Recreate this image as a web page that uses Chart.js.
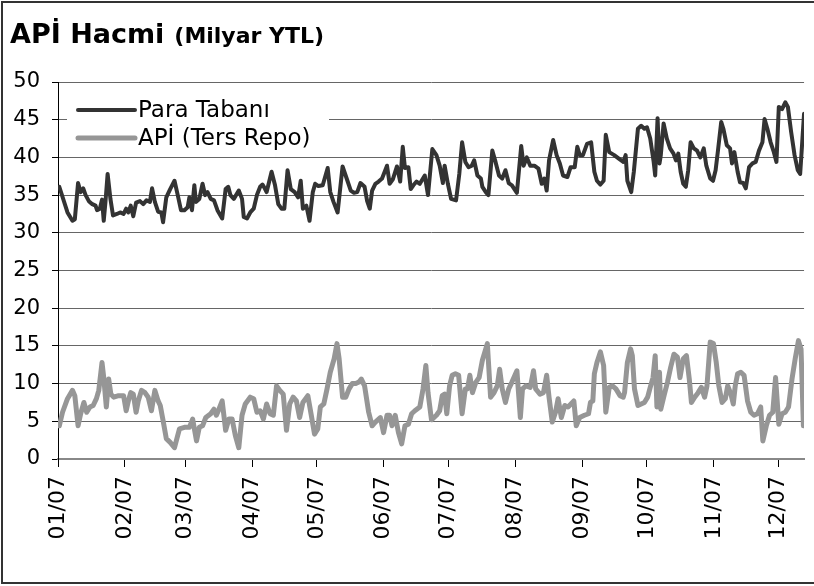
<!DOCTYPE html>
<html>
<head>
<meta charset="utf-8">
<script src="https://cdn.jsdelivr.net/npm/chart.js@4/dist/chart.umd.min.js"></script>
<style>
	body { margin: 0; background: white; }
	canvas { display: block; }
</style>
</head>
<body>
<canvas id="graph" width="814" height="586"></canvas>
<script>
// day of year (0 = 1 Jan 2007) and value, in Milyar YTL
var paraDays = [0.6,4.4,6.7,7.8,9.3,10.5,11.7,12.8,14.3,15.9,17.4,18.1,19.4,20.4,21.2,22.0,23.0,24.3,25.5,27.3,28.8,30.4,31.6,32.6,33.7,34.9,36.2,38.0,39.5,41.0,42.6,43.6,44.9,46.4,47.9,48.7,50.2,52.0,54.0,55.5,57.0,58.6,60.1,60.9,62.1,63.2,63.9,65.5,67.0,68.2,69.3,70.8,72.3,73.9,76.1,77.7,78.9,79.9,81.5,83.8,85.3,86.1,87.6,89.1,90.7,92.2,93.7,94.8,96.0,96.7,99.0,100.6,102.1,103.6,104.9,106.4,107.9,109.7,111.3,112.5,113.5,115.1,116.6,118.1,119.2,120.7,122.7,125.0,126.2,127.7,129.6,131.9,133.8,135.7,137.2,138.7,140.2,142.1,143.3,144.5,145.6,147.1,148.6,150.2,152.5,153.7,155.2,157.1,158.6,159.8,160.8,162.4,163.5,164.7,166.2,167.7,170.0,171.5,173.5,175.4,176.9,178.4,179.2,180.7,182.2,184.5,186.0,187.3,188.8,190.3,191.8,192.9,194.4,196.0,196.7,198.3,199.5,201.3,202.8,204.4,205.9,207.4,208.9,210.4,212.7,214.7,215.8,217.3,218.9,220.8,222.7,224.2,225.4,226.5,227.6,229.5,231.1,232.6,234.1,236.1,237.6,239.5,240.7,241.8,243.3,245.2,247.1,248.6,249.8,251.4,252.9,253.9,255.5,257.8,260.1,262.0,263.1,263.9,265.7,266.9,268.8,270.3,271.8,273.0,274.5,276.1,276.8,277.9,278.8,279.4,280.7,282.2,283.7,285.3,286.4,287.5,288.6,289.8,291.0,292.1,293.2,294.7,296.2,297.7,299.3,300.5,302.3,303.6,304.8,305.9,307.4,308.4,310.0,311.5,312.4,313.5,315.0,316.1,317.6,318.8,320.3,321.9,323.4,324.9,326.5,327.5,328.8,330.3,331.8,333.0,334.1,335.6,337.1,338.3,339.8,341.4,342.9,344.0,345.8];
var paraValues = [36.1,32.7,31.6,31.8,36.6,35.4,35.9,35.0,34.2,33.8,33.6,33.0,33.2,34.4,31.6,34.1,37.8,34.5,32.3,32.5,32.7,32.5,33.2,32.7,33.6,32.2,34.0,34.2,33.8,34.3,34.1,35.9,34.1,32.8,32.7,31.4,34.7,35.8,36.9,35.0,33.0,33.0,33.4,34.7,33.0,36.3,34.1,34.5,36.5,35.0,35.4,34.5,34.3,33.0,31.9,35.8,36.1,35.0,34.5,35.6,34.5,32.1,31.9,32.7,33.2,35.0,36.1,36.4,35.8,35.4,38.1,36.3,33.8,33.2,33.2,38.3,35.8,35.4,34.7,36.9,33.2,33.6,31.6,35.4,36.5,36.2,36.3,38.6,35.4,34.1,32.7,38.8,37.2,35.6,35.3,35.4,36.6,36.1,34.2,33.2,35.6,36.5,36.8,37.2,38.9,36.5,37.1,38.8,36.8,41.4,38.6,38.7,35.8,36.3,36.8,36.5,37.6,35.0,41.1,40.3,38.9,36.6,38.9,36.5,34.5,34.3,37.8,42.0,39.4,38.7,38.9,39.6,37.6,37.2,36.1,35.4,35.0,40.9,39.4,37.6,37.2,38.3,36.6,36.3,35.3,41.5,38.9,40.0,38.9,38.9,38.5,36.5,37.2,35.6,39.6,42.3,40.3,39.2,37.6,37.4,38.7,38.7,41.4,40.3,40.3,41.8,42.0,38.1,36.9,36.4,36.9,43.0,40.7,40.3,39.8,39.4,40.3,36.9,35.4,38.1,43.8,44.2,43.8,44.0,42.5,39.4,37.6,45.2,39.2,40.3,44.5,42.5,41.2,40.5,39.6,40.5,38.1,36.5,36.1,38.3,42.0,41.2,40.9,40.0,41.2,38.9,37.2,36.9,38.3,40.9,44.7,43.8,41.6,41.2,39.2,40.7,38.1,36.7,36.6,35.9,38.7,39.2,39.4,40.9,42.0,45.1,43.8,42.0,40.7,39.4,46.7,46.4,47.3,46.7,43.4,40.3,38.3,37.8,45.8];

var apiDays = [0.6,2.1,4.4,6.7,7.8,9.3,10.5,12.0,13.3,14.8,16.3,17.8,18.9,20.4,21.2,22.4,23.5,24.5,25.8,28.1,30.4,31.6,32.6,33.7,34.9,36.2,37.2,38.7,40.3,41.8,43.3,44.9,46.4,47.4,48.7,50.2,52.0,54.0,55.1,56.3,58.6,60.9,62.4,64.2,65.5,67.0,68.5,70.8,72.3,73.4,74.6,76.1,77.7,79.2,80.7,82.2,83.8,85.3,86.8,89.1,90.7,92.2,93.7,95.2,96.7,98.3,99.8,101.3,102.8,104.4,105.9,107.4,109.0,110.5,112.0,113.5,115.8,117.4,118.9,120.4,121.6,123.2,124.7,126.2,128.0,129.3,130.3,131.9,133.4,134.9,136.4,138.0,139.5,140.6,142.1,144.0,145.6,147.1,149.4,150.9,152.5,153.7,154.8,156.3,157.8,159.3,160.8,162.4,163.9,165.4,167.7,169.2,170.5,171.5,173.1,175.4,176.9,178.1,179.2,180.2,181.5,182.7,184.2,185.7,187.3,188.8,189.8,190.9,192.1,193.7,195.2,196.7,199.0,200.5,202.1,203.6,204.7,205.9,207.4,208.9,210.4,212.7,214.3,215.3,216.9,218.9,220.4,221.4,223.4,225.0,226.5,227.6,229.1,230.6,231.8,233.3,234.9,236.4,239.1,240.2,241.8,244.0,245.9,246.8,247.9,248.6,249.8,251.4,252.9,253.9,255.5,257.0,258.6,260.5,262.0,262.6,263.9,265.4,266.2,267.2,268.8,270.3,271.8,273.3,274.5,275.8,276.8,277.6,278.8,279.4,280.9,282.5,284.0,285.5,287.1,288.3,289.8,291.3,292.6,293.6,295.1,296.7,298.2,299.7,300.8,302.3,303.8,305.1,306.3,307.8,309.3,310.4,311.9,313.0,313.9,315.0,316.5,318.0,319.6,321.1,322.6,324.2,325.7,326.7,328.3,329.8,331.3,332.6,334.1,335.6,337.1,338.6,340.2,341.7,343.2,344.4,345.5];
var apiValues = [4.4,6.2,8.0,9.1,8.4,4.4,6.0,7.5,6.2,6.9,7.1,8.0,9.1,12.8,10.8,6.9,10.6,8.6,8.2,8.4,8.4,6.4,7.7,8.8,8.6,6.2,7.7,9.1,8.8,8.2,6.4,9.1,7.7,7.1,5.1,2.7,2.2,1.5,2.7,4.0,4.2,4.2,5.3,2.4,4.2,4.4,5.5,6.0,6.6,5.8,6.6,7.7,3.8,5.3,5.3,3.1,1.5,5.8,7.3,8.2,8.0,6.2,6.4,5.3,7.3,6.0,5.8,9.7,9.1,8.6,3.8,7.3,8.2,7.7,5.5,7.5,8.4,5.8,3.3,4.0,6.9,7.3,9.3,11.5,13.3,15.3,13.3,8.2,8.2,9.3,10.0,10.0,10.2,10.6,9.7,6.2,4.4,4.9,5.5,3.5,5.8,5.8,4.4,5.8,3.5,2.0,4.4,4.6,6.0,6.4,6.9,9.3,12.4,8.8,5.2,5.8,6.4,8.4,8.6,6.0,9.7,11.1,11.3,11.1,6.0,9.3,9.3,11.1,8.8,10.2,10.8,13.1,15.3,8.2,8.8,9.7,11.9,9.3,7.5,9.3,10.2,11.7,5.5,9.3,9.7,9.5,11.7,9.3,8.6,8.8,11.1,8.2,4.9,6.2,8.0,5.5,7.1,6.9,7.7,4.4,5.5,5.8,6.0,7.5,7.7,11.3,12.8,14.2,12.4,6.2,9.5,9.7,9.3,8.4,8.2,8.8,12.8,14.6,13.7,9.3,7.1,7.3,7.5,8.2,9.5,10.8,13.7,6.9,11.5,6.6,8.4,10.2,12.2,13.9,13.5,10.8,13.3,13.7,10.6,7.5,8.2,8.8,9.5,8.2,9.7,15.5,15.3,12.8,9.7,7.5,8.0,9.7,8.6,7.3,9.7,11.3,11.5,11.1,7.7,6.2,5.8,6.0,6.9,2.4,4.4,5.8,6.2,10.8,4.6,6.0,6.2,6.9,10.6,13.3,15.7,14.6,4.4];

var monthStarts = [0, 31, 59, 90, 120, 151, 181, 212, 243, 273, 304, 334];
var monthLabels = ['01/07', '02/07', '03/07', '04/07', '05/07', '06/07', '07/07', '08/07', '09/07', '10/07', '11/07', '12/07'];

const fontName = "'DejaVu Sans', sans-serif";
const ctx = document.getElementById('graph').getContext('2d');

function toPoints(days, values) {
	return days.map((d, i) => ({ x: d, y: values[i] }));
}

// white page, frame and the two-size title
const frame = {
	id: 'frame',
	beforeDraw(chart) {
		const c = chart.ctx;
		c.save();
		c.fillStyle = 'white';
		c.fillRect(0, 0, chart.width, chart.height);
		c.restore();
	},
	afterDraw(chart) {
		const c = chart.ctx;
		c.save();
		c.strokeStyle = '#333';
		c.lineWidth = 2;
		c.strokeRect(2, 2, chart.width + 10, chart.height - 5);
		c.fillStyle = 'black';
		c.textBaseline = 'alphabetic';
		c.font = "bold 27px " + fontName;
		c.fillText('APİ Hacmi', 10, 43);
		const w = c.measureText('APİ Hacmi').width;
		c.font = "bold 22px " + fontName;
		c.fillText('(Milyar YTL)', 20 + w, 43);
		c.restore();
	}
};

// legend box sitting on the grid, under the lines
const boxLegend = {
	id: 'boxLegend',
	beforeDatasetsDraw(chart) {
		const c = chart.ctx;
		const a = chart.chartArea;
		c.save();
		c.fillStyle = 'white';
		c.fillRect(a.left + 9, a.top + 6, 262, 64);
		c.font = "23px " + fontName;
		c.textBaseline = 'middle';
		chart.data.datasets.forEach((ds, i) => {
			const y = a.top + 28 + i * 28;
			c.strokeStyle = ds.borderColor;
			c.lineWidth = ds.borderWidth;
			c.lineCap = 'round';
			c.beginPath();
			c.moveTo(a.left + 20, y);
			c.lineTo(a.left + 77, y);
			c.stroke();
			c.fillStyle = 'black';
			c.fillText(ds.label, a.left + 80, y + 1);
		});
		c.restore();
	}
};

new Chart(ctx, {
	type: 'line',
	data: {
		datasets: [{
			label: 'Para Tabanı',
			data: toPoints(paraDays, paraValues),
			borderColor: '#333333',
			backgroundColor: '#333333',
			borderWidth: 4
		},
		{
			label: 'APİ (Ters Repo)',
			data: toPoints(apiDays, apiValues),
			borderColor: '#969696',
			backgroundColor: '#969696',
			borderWidth: 5
		}]
	},
	options: {
		animation: false,
		responsive: false,
		devicePixelRatio: 1,
		layout: { padding: { top: 82, right: 0, bottom: 0, left: 0 } },
		elements: {
			point: { radius: 0 },
			line: { tension: 0, borderJoinStyle: 'round', borderCapStyle: 'round' }
		},
		scales: {
			x: {
				type: 'linear',
				min: 0,
				max: 345.8,
				afterBuildTicks: axis => { axis.ticks = monthStarts.map(v => ({ value: v })); },
				afterFit: axis => { axis.height = 127; },
				border: { color: '#888', width: 2 },
				grid: { drawOnChartArea: false, drawTicks: true, tickLength: 8, tickColor: '#000' },
				ticks: {
					autoSkip: false,
					minRotation: 90,
					maxRotation: 90,
					padding: 9,
					color: 'black',
					font: { family: fontName, size: 22 },
					callback: (v, i) => monthLabels[i]
				}
			},
			y: {
				min: 0,
				max: 50,
				afterFit: axis => { axis.width = 58; },
				border: { color: '#000', width: 1 },
				grid: { color: '#666', tickLength: 6, tickColor: '#000' },
				ticks: {
					stepSize: 5,
					padding: 12,
					color: 'black',
					font: { family: fontName, size: 21 }
				}
			}
		},
		plugins: {
			legend: { display: false },
			tooltip: { enabled: false }
		}
	},
	plugins: [frame, boxLegend]
});
</script>
</body>
</html>
